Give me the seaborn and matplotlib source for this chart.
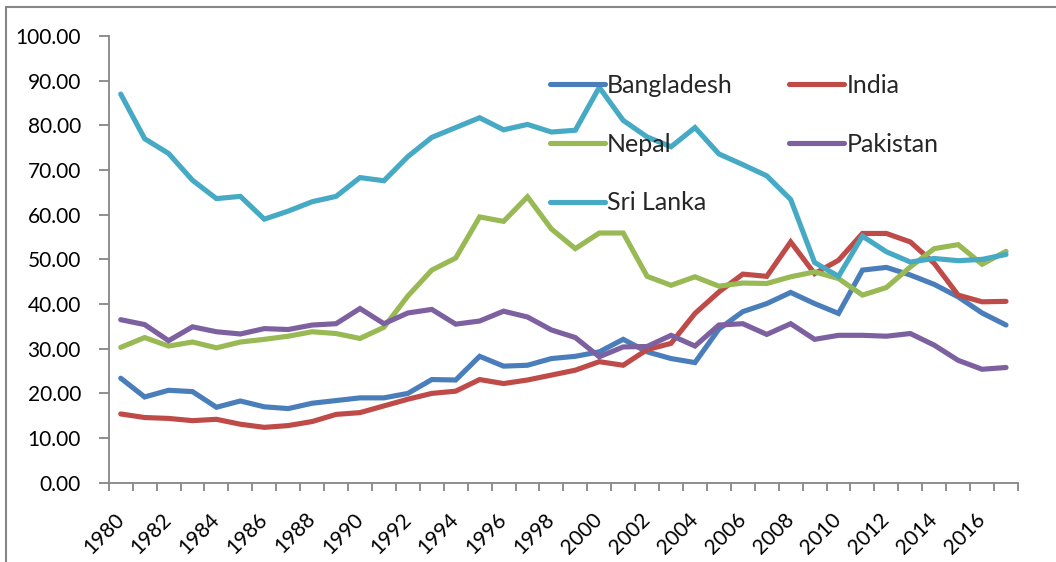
import numpy as np
import pandas as pd
import matplotlib
matplotlib.use("Agg")
import matplotlib.pyplot as plt
import matplotlib.ticker as mtick
from matplotlib.lines import Line2D
import seaborn as sns

# Dados (1980-2017)
anos = list(range(1980, 2018))

bangladesh = [23.4, 19.2, 20.7, 20.4, 16.9, 18.3, 17.0, 16.6, 17.8, 18.4,
              19.0, 19.0, 20.0, 23.1, 23.0, 28.3, 26.1, 26.3, 27.8, 28.3,
              29.3, 32.1, 29.3, 27.8, 26.9, 34.4, 38.3, 40.1, 42.6, 40.1,
              37.9, 47.6, 48.2, 46.5, 44.4, 41.6, 38.0, 35.3]
india = [15.4, 14.6, 14.4, 13.9, 14.2, 13.1, 12.4, 12.8, 13.7, 15.3,
         15.7, 17.2, 18.7, 20.0, 20.5, 23.1, 22.2, 23.0, 24.1, 25.2,
         27.1, 26.3, 29.8, 31.2, 37.9, 42.7, 46.7, 46.2, 53.9, 46.8,
         49.8, 55.8, 55.8, 53.9, 49.1, 42.0, 40.5, 40.6]
nepal = [30.3, 32.5, 30.6, 31.5, 30.2, 31.5, 32.1, 32.8, 33.8, 33.4,
         32.3, 34.8, 41.8, 47.6, 50.3, 59.5, 58.5, 64.0, 56.8, 52.4,
         55.9, 55.9, 46.2, 44.2, 46.1, 44.0, 44.7, 44.6, 46.1, 47.2,
         45.7, 42.0, 43.7, 48.3, 52.4, 53.3, 48.9, 51.8]
pakistan = [36.5, 35.4, 31.8, 34.9, 33.8, 33.3, 34.5, 34.3, 35.3, 35.6,
            39.0, 35.6, 38.0, 38.8, 35.5, 36.2, 38.4, 37.1, 34.2, 32.5,
            28.2, 30.4, 30.5, 33.0, 30.6, 35.3, 35.6, 33.2, 35.6, 32.1,
            33.0, 33.0, 32.8, 33.4, 30.8, 27.4, 25.4, 25.8]
sri_lanka = [87.0, 77.0, 73.7, 67.7, 63.6, 64.1, 59.0, 60.8, 62.9, 64.1,
             68.3, 67.6, 73.0, 77.3, 79.5, 81.7, 79.0, 80.2, 78.5, 78.9,
             88.5, 81.1, 77.4, 75.2, 79.5, 73.6, 71.2, 68.7, 63.4, 49.3,
             46.2, 55.2, 51.7, 49.4, 50.2, 49.7, 50.0, 51.1]

paises = ["Bangladesh", "India", "Nepal", "Pakistan", "Sri Lanka"]
cores = ["#4A7EBB", "#BE4B48", "#98B954", "#7D60A0", "#46AAC5"]

df = pd.DataFrame({"Ano": anos, "Bangladesh": bangladesh, "India": india,
                   "Nepal": nepal, "Pakistan": pakistan, "Sri Lanka": sri_lanka})
df_long = df.melt(id_vars="Ano", var_name="Pais", value_name="Valor")

sns.set_style("white")
plt.rcParams["font.family"] = ["Lato", "DejaVu Sans"]

fig = plt.figure(figsize=(10.56, 5.62), dpi=100)
ax = fig.add_axes([0.103, 0.141, 0.861, 0.795])

sns.lineplot(data=df_long, x="Ano", y="Valor", hue="Pais", hue_order=paises,
             palette=cores, linewidth=3.7, ax=ax, legend=False,
             solid_capstyle="round", solid_joinstyle="miter")

cinza = "#868686"
ax.set_xlim(1979.5, 2017.5)
ax.set_ylim(0, 100)
ax.set_xlabel("")
ax.set_ylabel("")
ax.yaxis.set_major_locator(mtick.MultipleLocator(10))
ax.yaxis.set_major_formatter(mtick.FormatStrFormatter("%.2f"))
ax.xaxis.set_major_locator(mtick.FixedLocator(anos[::2]))
ax.xaxis.set_minor_locator(mtick.FixedLocator(np.arange(1979.5, 2018, 1.0)))

for lado in ["top", "right"]:
    ax.spines[lado].set_visible(False)
for lado in ["left", "bottom"]:
    ax.spines[lado].set_color(cinza)
    ax.spines[lado].set_linewidth(1.3)

ax.tick_params(axis="y", which="major", left=True, length=7, width=1.3,
               color=cinza, pad=13, labelsize=15, labelcolor="black")
ax.tick_params(axis="x", which="major", bottom=True, length=0, pad=24,
               labelsize=15, labelcolor="black")
ax.tick_params(axis="x", which="minor", bottom=True, length=6, width=1.3,
               color=cinza)
for rotulo in ax.get_xticklabels():
    rotulo.set_rotation(45)
    rotulo.set_ha("right")
    rotulo.set_va("center")
    rotulo.set_rotation_mode("anchor")

# legenda em duas colunas, na ordem do Excel
ordem = [0, 2, 4, 1, 3]
handles = [Line2D([], [], color=cores[i], linewidth=3.7, solid_capstyle="round")
           for i in ordem]
ax.legend(handles, [paises[i] for i in ordem], ncol=2, frameon=False,
          loc="upper left", bbox_to_anchor=(0.485, 0.915), borderaxespad=0,
          borderpad=0, fontsize=18, handlelength=2.2, handletextpad=0.1,
          columnspacing=2.25, labelspacing=1.43)

# moldura do gráfico (só topo e esquerda visíveis)
fig.add_artist(Line2D([6 / 1056, 6 / 1056], [0, 1 - 7 / 562],
                      color=cinza, linewidth=1.5, transform=fig.transFigure))
fig.add_artist(Line2D([6 / 1056, 1], [1 - 7 / 562, 1 - 7 / 562],
                      color=cinza, linewidth=1.5, transform=fig.transFigure))

fig.savefig("out.png", dpi=100)
